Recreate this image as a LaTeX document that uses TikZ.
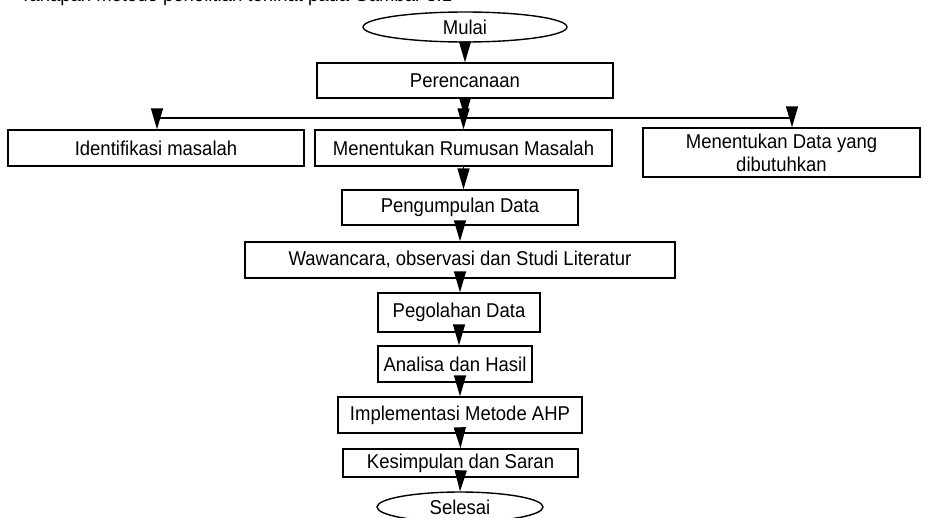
\documentclass[tikz,border=0pt]{standalone}
\usepackage{fontspec}
\setmainfont[FakeStretch=0.925]{Liberation Sans}
\usetikzlibrary{arrows.meta,shapes.geometric}
\begin{document}
\begin{tikzpicture}[x=1pt,y=-1pt,
  every node/.style={font=\fontsize{20}{23}\selectfont, inner sep=0pt},
  box/.style={draw, line width=1.4pt, rectangle, align=center},
  term/.style={draw, line width=1.4pt, ellipse},
  conn/.style={line width=1.4pt, -{Triangle[length=21pt,width=12pt]}},
  barline/.style={line width=1.4pt}]
\useasboundingbox (0,0) rectangle (926,517);
\begin{scope}
\clip (0,0) rectangle (926,517);
% clipped caption line above the figure
\node[anchor=base west] (cap) at (20,1.5) {Tahapan metode penelitian terlihat pada Gambar 3.1};
% terminals
\node[term, minimum width=204pt, minimum height=30pt] (mulai) at (465,27) {Mulai};
\node[term, minimum width=166pt, minimum height=30pt] (selesai) at (460,507) {Selesai};
% boxes
\node[box, minimum width=296pt, minimum height=35pt] (plan) at (465,80.5) {Perencanaan};
\node[box, minimum width=296pt, minimum height=36pt] (iden) at (156,148) {Identifikasi masalah};
\node[box, minimum width=297pt, minimum height=36pt] (rumus) at (463.5,148) {Menentukan Rumusan Masalah};
\node[box, minimum width=277pt, minimum height=49pt] (data) at (781.5,152.5) {Menentukan Data yang\\dibutuhkan};
\node[box, minimum width=236pt, minimum height=35pt] (kumpul) at (460,207.5) {Pengumpulan Data};
\node[box, minimum width=430pt, minimum height=36pt] (wawan) at (460,260) {Wawancara, observasi dan Studi Literatur};
\node[box, minimum width=162pt, minimum height=39pt] (olah) at (459,312.5) {Pegolahan Data};
\node[box, minimum width=154pt, minimum height=36pt] (analisa) at (455,364) {Analisa dan Hasil};
\node[box, minimum width=244pt, minimum height=36pt] (impl) at (460,415) {Implementasi Metode AHP};
\node[box, minimum width=235pt, minimum height=28pt] (simpul) at (460.5,463) {Kesimpulan dan Saran};
% branch bar
\coordinate (barL) at (157,118);
\coordinate (barM) at (463.5,118);
\coordinate (barR) at (792,118);
\draw[barline] (barL) -- (barR);
% connectors
\draw[conn] (mulai.south) -- (plan.north);
\draw[conn] (plan.south) -- (plan.south |- barM);
\draw[conn] (barL) -- (barL |- iden.north);
\draw[conn] (barM) -- (rumus.north);
\draw[conn] (barR) -- (barR |- data.north);
\draw[conn] (rumus.south) -- (rumus.south |- kumpul.north);
\draw[conn] (kumpul.south) -- (wawan.north);
\draw[conn] (wawan.south) -- (wawan.south |- olah.north);
\draw[conn] (olah.south) -- (olah.south |- analisa.north);
\draw[conn] (impl.north |- analisa.south) -- (impl.north);
\draw[conn] (impl.south) -- (simpul.north);
\draw[conn] (simpul.south) -- (selesai.north);
\end{scope}
\end{tikzpicture}
\end{document}
